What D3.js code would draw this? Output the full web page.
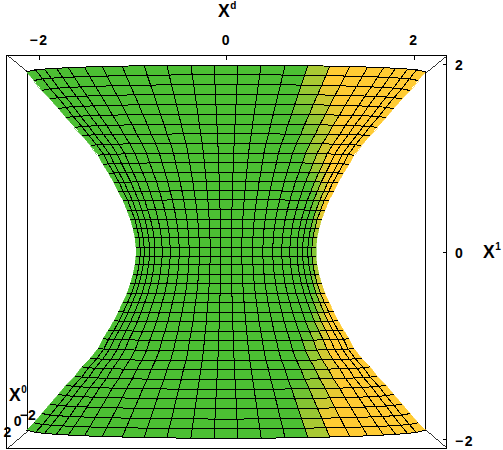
<!DOCTYPE html>
<html>
<head>
<meta charset="utf-8">
<script src="https://cdn.jsdelivr.net/npm/d3@7"></script>
<style>
    html, body { margin: 0; padding: 0; background: #fff; }
    text { font-family: "Liberation Sans", sans-serif; font-weight: bold; font-size: 14px; fill: #000; }
</style>
</head>
<body>
<div id="chart"></div>
<script>
var svgWidth = 503;
var svgHeight = 450;

// Surface rows, top to bottom, in axis units
var rowCenter = [1.988, 1.885, 1.781, 1.679, 1.572, 1.466, 1.359, 1.255, 1.156, 1.050,
    0.949, 0.847, 0.747, 0.647, 0.551, 0.445, 0.346, 0.250, 0.149, 0.047,
    -0.053, -0.142, -0.249, -0.345, -0.451, -0.547, -0.651, -0.750, -0.853, -0.949,
    -1.056, -1.163, -1.262, -1.365, -1.468, -1.571, -1.678, -1.785, -1.888, -1.990];
var rowEdge = [1.917, 1.824, 1.717, 1.626, 1.525, 1.429, 1.323, 1.237, 1.131, 1.028,
    0.930, 0.834, 0.736, 0.640, 0.546, 0.441, 0.341, 0.247, 0.148, 0.047,
    -0.052, -0.141, -0.247, -0.342, -0.446, -0.541, -0.641, -0.737, -0.837, -0.929,
    -1.033, -1.135, -1.229, -1.327, -1.424, -1.522, -1.624, -1.726, -1.825, -1.902];
var rowHalfWidth = [2.128, 2.048, 1.963, 1.877, 1.787, 1.707, 1.611, 1.536, 1.445, 1.365,
    1.312, 1.253, 1.195, 1.147, 1.099, 1.056, 1.019, 0.992, 0.971, 0.960,
    0.960, 0.971, 0.992, 1.019, 1.056, 1.099, 1.147, 1.195, 1.253, 1.312,
    1.365, 1.445, 1.536, 1.611, 1.707, 1.787, 1.877, 1.963, 2.048, 2.128];

// Surface columns: share of the row half width, and how far the row has bowed at that column
var colShare = [-1, -0.955, -0.91, -0.85, -0.79, -0.71, -0.62, -0.52, -0.41, -0.296, -0.176, -0.06,
    0.06, 0.176, 0.296, 0.41, 0.52, 0.62, 0.71, 0.79, 0.85, 0.91, 0.955, 1];
var colBow = [0, 0.3, 0.41, 0.53, 0.61, 0.71, 0.78, 0.85, 0.91, 0.96, 0.985, 1,
    1, 0.985, 0.96, 0.91, 0.85, 0.78, 0.71, 0.61, 0.53, 0.41, 0.3, 0];

// Where the green to yellow change sits in each row band (column number from the middle) and how wide it is
var toneCenter = [4, 4, 4.2, 4.5, 4.9, 5.3, 5.7, 6, 6.3, 6.6, 7.2, 7.9, 8.6, 9.3, 9.8, 10.2, 10.6, 11, 11.3,
    11.5,
    11.3, 11, 10.6, 10.2, 9.8, 9.3, 8.6, 7.9, 7.2, 6.6, 6.3, 6, 5.7, 5.3, 4.9, 4.5, 4.2, 4, 4];
var toneWidth = [1, 1, 1.1, 1.3, 1.5, 1.5, 1.5, 1.5, 1.5, 1.5, 1.5, 1.5, 1.5, 1.5, 1.3, 1.2, 1.2, 1.2, 1.2,
    1.2,
    1.2, 1.2, 1.2, 1.2, 1.3, 1.5, 1.5, 1.5, 1.5, 1.5, 1.5, 1.5, 1.5, 1.5, 1.5, 1.3, 1.1, 1, 1];

var tickValues = [-2, 0, 2];
var toneColors = ["#4cbf33", "#a9c933", "#ffcb33"];

var svg = d3.select("#chart")
    .append("svg")
    .attr("width", svgWidth)
    .attr("height", svgHeight)
    .style("display", "block");

var xScale = d3.scaleLinear().domain([-2, 2]).range([38.5, 413.5]);
var yScale = d3.scaleLinear().domain([-2, 2]).range([439.2, 64]);

// depth axis is squashed into the bottom left corner
var zScaleX = d3.scaleLinear().domain([-2, 0, 2]).range([27.8, 17.7, 7.5]);
var zScaleY = d3.scaleLinear().domain([-2, 0, 2]).range([420, 426, 436.7]);

var toneScale = d3.scaleLinear().domain([-1, 0, 1]).range(toneColors).clamp(true);

// front and back faces of the box
var front = { left: 6.5, right: 446.5, top: 55.5, bottom: 448.5 };
var back = { left: 27.5, right: 425.5, top: 72.5, bottom: 430.5 };

var boxGroup = svg.append("g")
    .attr("fill", "none")
    .attr("stroke", "#000")
    .attr("shape-rendering", "crispEdges");

boxGroup.append("rect")
    .attr("x", back.left)
    .attr("y", back.top)
    .attr("width", back.right - back.left)
    .attr("height", back.bottom - back.top)
    .attr("stroke-width", 1);

boxGroup.selectAll("line")
    .data([["left", "top"], ["right", "top"], ["left", "bottom"], ["right", "bottom"]])
    .enter()
    .append("line")
    .attr("x1", d => front[d[0]])
    .attr("y1", d => front[d[1]])
    .attr("x2", d => back[d[0]])
    .attr("y2", d => back[d[1]])
    .attr("stroke-width", 0.8);

// a surface node, in pixels
function nodeX(i, j) {
    return xScale(rowHalfWidth[i] * colShare[j]);
}

function nodeY(i, j) {
    return yScale(rowEdge[i] + (rowCenter[i] - rowEdge[i]) * colBow[j]);
}

// build the cells of the mesh
var cells = [];
d3.range(rowCenter.length - 1).forEach(function(i) {
    d3.range(colShare.length - 1).forEach(function(j) {
        cells.push({ row: i, col: j });
    });
});

function cellColor(d) {
    var fromMiddle = d.col - 11;
    return toneScale((fromMiddle - toneCenter[d.row]) / toneWidth[d.row]);
}

var meshGroup = svg.append("g");

meshGroup.selectAll("polygon")
    .data(cells)
    .enter()
    .append("polygon")
    .attr("points", function(d) {
        var i = d.row, j = d.col;
        return [[nodeX(i, j), nodeY(i, j)], [nodeX(i, j + 1), nodeY(i, j + 1)],
            [nodeX(i + 1, j + 1), nodeY(i + 1, j + 1)], [nodeX(i + 1, j), nodeY(i + 1, j)]].join(" ");
    })
    .attr("fill", cellColor)
    .attr("stroke", cellColor)
    .attr("stroke-width", 0.6)
    .attr("shape-rendering", "crispEdges");

var meshLine = d3.line();

// lines along the rows
meshGroup.selectAll(".row-line")
    .data(d3.range(rowCenter.length))
    .enter()
    .append("path")
    .attr("class", "row-line")
    .attr("d", i => meshLine(colShare.map((s, j) => [nodeX(i, j), nodeY(i, j)])));

// lines along the columns, the two silhouette columns have no visible line
meshGroup.selectAll(".col-line")
    .data(d3.range(1, colShare.length - 1))
    .enter()
    .append("path")
    .attr("class", "col-line")
    .attr("d", j => meshLine(rowCenter.map((c, i) => [nodeX(i, j), nodeY(i, j)])));

meshGroup.selectAll(".row-line, .col-line")
    .attr("fill", "none")
    .attr("stroke", "#000")
    .attr("stroke-width", 1)
    .attr("shape-rendering", "crispEdges");

// front face on top of everything
svg.append("rect")
    .attr("x", front.left)
    .attr("y", front.top)
    .attr("width", front.right - front.left)
    .attr("height", front.bottom - front.top)
    .attr("fill", "none")
    .attr("stroke", "#000")
    .attr("stroke-width", 1)
    .attr("shape-rendering", "crispEdges");

var tickFormat = d => (d < 0 ? "\u2212" : "") + Math.abs(d);

var topAxis = d3.axisTop(xScale)
    .tickValues(tickValues)
    .tickFormat(tickFormat)
    .tickSizeInner(-4)
    .tickSizeOuter(0)
    .tickPadding(0);

var rightAxis = d3.axisRight(yScale)
    .tickValues(tickValues)
    .tickFormat(tickFormat)
    .tickSizeInner(-4)
    .tickSizeOuter(0)
    .tickPadding(0);

var topGroup = svg.append("g")
    .attr("transform", `translate(0, ${front.top})`)
    .call(topAxis);

var rightGroup = svg.append("g")
    .attr("transform", `translate(${front.right}, 0)`)
    .call(rightAxis);

topGroup.select(".domain").remove();
rightGroup.select(".domain").remove();

topGroup.selectAll("line").attr("stroke", "#000").attr("shape-rendering", "crispEdges");
rightGroup.selectAll("line").attr("stroke", "#000").attr("shape-rendering", "crispEdges");

// remove the font attributes d3 puts on the axis group, so the page style applies
topGroup.attr("font-family", null).attr("font-size", null);
rightGroup.attr("font-family", null).attr("font-size", null);

// the reference has a wider minus, a bit of letter spacing gets the same label width
topGroup.selectAll("text")
    .attr("y", -10.5)
    .attr("dy", 0)
    .style("letter-spacing", "1.5px");

rightGroup.selectAll("text")
    .attr("x", 8.5)
    .attr("dy", "0.42em")
    .style("letter-spacing", "1.5px");

// depth axis tick labels
svg.selectAll(".z-tick")
    .data(tickValues)
    .enter()
    .append("text")
    .attr("class", "z-tick")
    .attr("x", d => zScaleX(d))
    .attr("y", d => zScaleY(d))
    .attr("text-anchor", "middle")
    .text(tickFormat);

// axis titles
var axisTitles = [
    { sup: "d", x: 218, y: 17 },
    { sup: "1", x: 483, y: 257.5 },
    { sup: "0", x: 9, y: 400.5 }
];

var titles = svg.selectAll(".axis-title")
    .data(axisTitles)
    .enter()
    .append("text")
    .attr("class", "axis-title")
    .attr("x", d => d.x)
    .attr("y", d => d.y);

titles.append("tspan")
    .style("font-family", '"Liberation Sans Narrow", "Liberation Sans", sans-serif')
    .style("font-size", "17.5px")
    .text("X");

titles.append("tspan")
    .attr("dy", -8)
    .attr("dx", 0.5)
    .style("font-size", "10px")
    .text(d => d.sup);
</script>
</body>
</html>
